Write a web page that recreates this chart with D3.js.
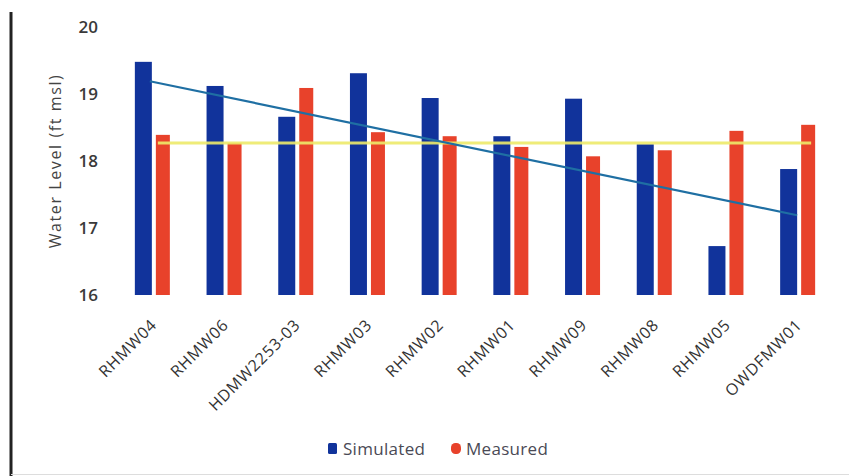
<!DOCTYPE html>
<html>
<head>
<meta charset="utf-8">
<script src="https://cdn.jsdelivr.net/npm/d3@7"></script>
<style>
  html, body { margin: 0; padding: 0; background: #fff; }
  svg { display: block; }
</style>
</head>
<body>
<svg id="chart" width="849" height="476"></svg>
<script>
// ---- data ----
const categories = ["RHMW04","RHMW06","HDMW2253-03","RHMW03","RHMW02","RHMW01","RHMW09","RHMW08","RHMW05","OWDFMW01"];
const simulated  = [19.48, 19.12, 18.66, 19.31, 18.94, 18.37, 18.93, 18.25, 16.73, 17.88];
const measured   = [18.39, 18.27, 19.09, 18.43, 18.37, 18.21, 18.07, 18.16, 18.45, 18.54];
const trendSimulated = [19.19, 17.19];   // fitted line, first to last well
const meanMeasured = 18.27;              // average measured level
const yTicks = [16, 17, 18, 19, 20];
const seriesNames = ["Simulated", "Measured"];

// ---- style ----
const BLUE = "#11339b", RED = "#e8422b", TREND = "#1f6fa3", YELLOW = "#eeeb6a";
const FONT = "'Open Sans', 'Liberation Sans', sans-serif";

const svg = d3.select("#chart");

// frame lines
svg.append("line").attr("x1", 11).attr("x2", 11).attr("y1", 12).attr("y2", 476)
  .attr("stroke", "#222").attr("stroke-width", 3);
svg.append("line").attr("x1", 11).attr("x2", 849).attr("y1", 474.5).attr("y2", 474.5)
  .attr("stroke", "#ddd").attr("stroke-width", 1);

const x = d3.scaleBand().domain(categories).range([118, 835]).padding(0);
const y = d3.scaleLinear().domain([16, 20]).range([295, 27]);
const cx = c => x(c) + x.bandwidth() / 2;

// bars
const g = svg.append("g");
g.selectAll("rect.sim").data(categories).join("rect")
  .attr("class", "sim")
  .attr("x", c => cx(c) - 19).attr("width", 17)
  .attr("y", (c, i) => y(simulated[i]))
  .attr("height", (c, i) => y(16) - y(simulated[i]))
  .attr("fill", BLUE);
g.selectAll("rect.meas").data(categories).join("rect")
  .attr("class", "meas")
  .attr("x", c => cx(c) + 2).attr("width", 14)
  .attr("y", (c, i) => y(measured[i]))
  .attr("height", (c, i) => y(16) - y(measured[i]))
  .attr("fill", RED);

// mean measured line
const first = categories[0], last = categories[categories.length - 1];
svg.append("line")
  .attr("x1", cx(first) + 4).attr("x2", cx(last) + 12)
  .attr("y1", y(meanMeasured)).attr("y2", y(meanMeasured))
  .attr("stroke", YELLOW).attr("stroke-width", 3).attr("opacity", 0.9);

// trend line
svg.append("line")
  .attr("x1", cx(first) - 4).attr("x2", cx(last) - 2)
  .attr("y1", y(trendSimulated[0])).attr("y2", y(trendSimulated[1]))
  .attr("stroke", TREND).attr("stroke-width", 2.2);

// y axis (labels only)
const yAxis = d3.axisLeft(y).tickValues(yTicks).tickSize(0).tickPadding(0).tickFormat(d3.format("d"));
const ya = svg.append("g").attr("transform", "translate(98,0)").call(yAxis);
ya.select(".domain").remove();
ya.selectAll("text").attr("font-family", FONT).attr("font-size", 17)
  .attr("font-weight", 600).attr("fill", "#3a3a3a");

svg.append("text")
  .attr("transform", "translate(61,161) rotate(-90)")
  .attr("text-anchor", "middle")
  .attr("font-family", FONT).attr("font-size", 16).attr("letter-spacing", 1.6).attr("fill", "#444")
  .text("Water Level (ft msl)");

// x axis (rotated labels)
const xAxis = d3.axisBottom(x).tickSize(0).tickPadding(0);
const xa = svg.append("g").attr("transform", "translate(0,300)").call(xAxis);
xa.select(".domain").remove();
xa.selectAll("text")
  .attr("font-family", FONT).attr("font-size", 16).attr("letter-spacing", 0.8).attr("fill", "#333")
  .attr("text-anchor", "end").attr("dy", 0).attr("y", 0)
  .attr("transform", "translate(4,26) rotate(-45)");

// legend
const legend = svg.append("g");
const lx = [328, 451];
legend.selectAll("rect").data(seriesNames).join("rect")
  .attr("x", (d, i) => lx[i]).attr("y", 443)
  .attr("width", (d, i) => i === 0 ? 9 : 10).attr("height", 11)
  .attr("rx", (d, i) => i === 0 ? 1.5 : 4.5)
  .attr("fill", (d, i) => i === 0 ? BLUE : RED);
legend.selectAll("text").data(seriesNames).join("text")
  .attr("x", (d, i) => lx[i] + 15).attr("y", 455)
  .attr("font-family", FONT).attr("font-size", 17).attr("letter-spacing", 0.3).attr("fill", "#4a4a55")
  .text(d => d);
</script>
</body>
</html>
